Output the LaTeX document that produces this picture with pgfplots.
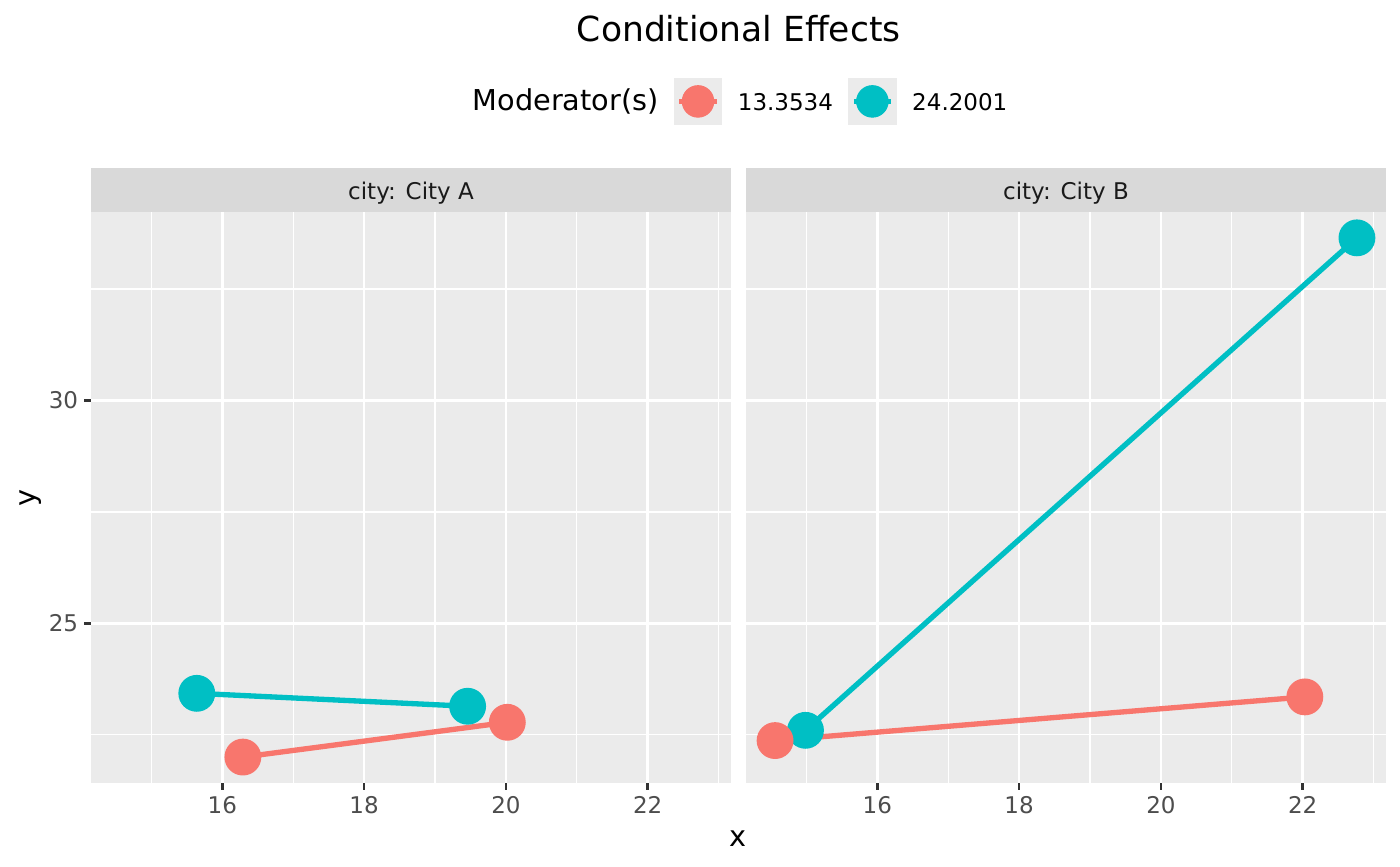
\documentclass[border=0pt]{standalone}
\usepackage{fontspec}
\setmainfont{DejaVu Sans}
\usepackage{pgfplots}
\pgfplotsset{compat=1.18}
\definecolor{cred}{HTML}{F8766D}
\definecolor{cteal}{HTML}{00BFC4}
\definecolor{panelbg}{HTML}{EBEBEB}
\definecolor{stripbg}{HTML}{D9D9D9}
\definecolor{tickcol}{HTML}{333333}
\definecolor{ticklab}{HTML}{4D4D4D}
\definecolor{striptext}{HTML}{1A1A1A}
\newcommand{\smallf}{\fontsize{9.2}{11}\selectfont}
\newcommand{\midf}{\fontsize{11.5}{13.5}\selectfont}
\pgfplotsset{
  facet/.style={
    scale only axis, width=256pt, height=228.4pt, anchor=south west,
    xmin=14.148, xmax=23.175, ymin=21.418, ymax=34.23,
    axis background/.style={fill=panelbg},
    axis line style={draw=none},
    xtick={16,18,20,22}, ytick={25,30},
    minor xtick={15,17,19,21,23}, minor ytick={22.5,27.5,32.5},
    grid=both,
    major grid style={draw=white, line width=1.07pt},
    minor grid style={draw=white, line width=0.53pt},
    tick align=outside, tick pos=left,
    major tick length=2.75pt, minor tick length=0pt,
    tick style={draw=tickcol, line width=1.07pt},
    ticklabel style={font=\smallf, text=ticklab, inner sep=0pt},
    /pgf/number format/assume math mode=true,
    xticklabel shift=2.3pt, yticklabel shift=2.2pt,
  },
  series/.style={forget plot, #1, line width=2.13pt, mark=*, mark size=6.3pt,
    mark options={draw=none, fill=#1}},
}
\begin{document}
\begin{tikzpicture}
\useasboundingbox (0,0) rectangle (560pt,346.4pt);
% Panel A
\begin{axis}[facet, at={(36.4pt,33.2pt)},
  legend columns=-1,
  legend style={at={(0.5719,1.1937)}, anchor=west, draw=none, fill=none,
    inner sep=0pt, outer sep=0pt, font=\smallf,
    /tikz/every odd column/.append style={column sep=6.3pt},
    /tikz/every even column/.append style={column sep=6.1pt},
    cells={anchor=base west}, nodes={inner sep=0pt, text=black}},
]
\addlegendimage{empty legend}
\addlegendentry{\midf Moderator(s)}
\addlegendimage{legend image code/.code={
  \fill[panelbg] (0pt,-5.7pt) rectangle (18.9pt,12.6pt);
  \draw[cred, line width=2.13pt] (2pt,3.45pt) -- (16.9pt,3.45pt);
  \fill[cred] (9.45pt,3.45pt) circle (6.3pt);}}
\addlegendentry{13.3534}
\addlegendimage{legend image code/.code={
  \fill[panelbg] (0pt,-5.7pt) rectangle (18.9pt,12.6pt);
  \draw[cteal, line width=2.13pt] (2pt,3.45pt) -- (16.9pt,3.45pt);
  \fill[cteal] (9.45pt,3.45pt) circle (6.3pt);}}
\addlegendentry{24.2001}
\addplot[series=cteal] coordinates {(15.64,23.43) (19.46,23.14)};
\addplot[series=cred] coordinates {(16.29,22.00) (20.02,22.78)};
\end{axis}
% Panel B
\begin{axis}[facet, at={(298.4pt,33.2pt)}, yticklabels={}, ytick style={draw=none}]
\addplot[series=cteal] coordinates {(14.987,22.60) (22.765,33.65)};
\addplot[series=cred] coordinates {(14.558,22.37) (22.03,23.35)};
\end{axis}
% strips
\fill[stripbg] (36.4pt,261.6pt) rectangle (292.4pt,279.2pt);
\fill[stripbg] (298.4pt,261.6pt) rectangle (554.4pt,279.2pt);
\node[anchor=base, inner sep=0pt, text=striptext, font=\smallf] at (164.4pt,266.6pt) {city: City A};
\node[anchor=base, inner sep=0pt, text=striptext, font=\smallf] at (426.4pt,266.6pt) {city: City B};
% titles
\node[anchor=base, inner sep=0pt, font=\fontsize{13.8}{16}\selectfont] at (295.5pt,330pt) {Conditional Effects};
\node[anchor=base, inner sep=0pt, font=\midf] at (295.4pt,7.7pt) {x};
\node[anchor=base, rotate=90, inner sep=0pt, font=\midf] at (14pt,147.4pt) {y};
\end{tikzpicture}
\end{document}
